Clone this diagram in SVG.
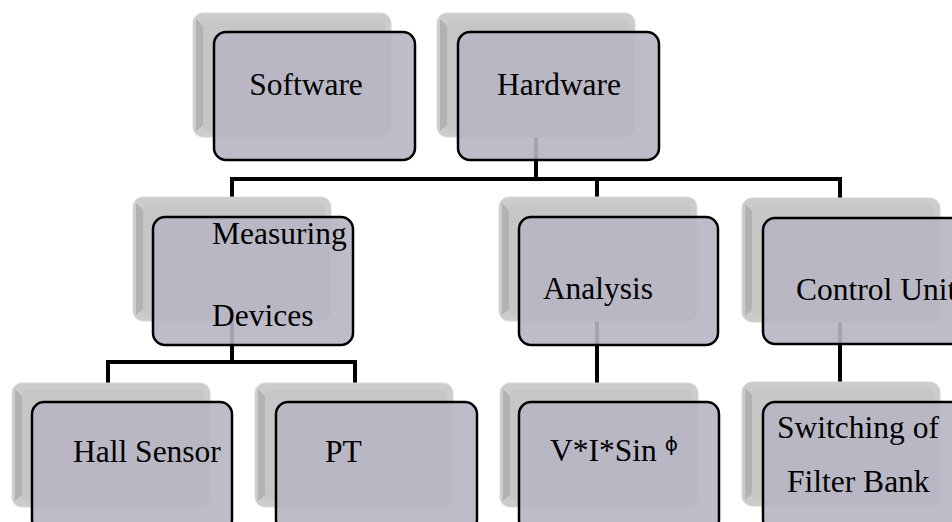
<svg xmlns="http://www.w3.org/2000/svg" width="952" height="522" viewBox="0 0 952 522">
<style>
.back{fill:#cccccc;stroke:#d8d8d8;stroke-width:1}
.face{fill:#c6c6c6}
.bevel{fill:#b2b2b2}
.front{fill:#b7b5c3;fill-opacity:0.9;stroke:#000;stroke-width:2.5}
.conn{fill:none;stroke:#000;stroke-width:4;stroke-linejoin:miter}
text{font-family:"Liberation Serif","Times New Roman",serif;font-size:31.5px;fill:#000}
</style>
<defs>
<g id="backbox">
<rect class="back" x="0" y="0" width="198" height="124" rx="10"/>
<rect class="face" x="9" y="7" width="183" height="111" rx="6"/>
<polygon class="bevel" points="3,6 10,13 10,112 3,118"/>
</g>
</defs>
<rect width="952" height="522" fill="#fff"/>
<g id="connectors">
<polyline class="conn" points="536,137 536,179"/>
<polyline class="conn" points="232,197 232,179 840,179 840,198"/>
<polyline class="conn" points="597,179 597,197"/>
<polyline class="conn" points="232,320 232,362"/>
<polyline class="conn" points="108,383 108,362 355,362 355,383"/>
<polyline class="conn" points="597,320 597,383"/>
<polyline class="conn" points="840,322 840,382"/>
</g>
<g id="software">
<use href="#backbox" x="193" y="13"/>
<rect class="front" x="214" y="32" width="201" height="128" rx="12"/>
<text x="306" y="95" text-anchor="middle">Software</text>
</g>
<g id="hardware">
<use href="#backbox" x="437" y="13"/>
<rect class="front" x="458" y="32" width="201" height="128" rx="12"/>
<text x="559" y="95" text-anchor="middle">Hardware</text>
</g>
<g id="measuring">
<use href="#backbox" x="133" y="197"/>
<rect class="front" x="153" y="217" width="200" height="128" rx="12"/>
<text x="212" y="244">Measuring</text>
<text x="212" y="326">Devices</text>
</g>
<g id="analysis">
<use href="#backbox" x="499" y="197"/>
<rect class="front" x="519" y="217" width="199" height="128" rx="12"/>
<text x="598" y="299" text-anchor="middle">Analysis</text>
</g>
<g id="control">
<use href="#backbox" x="742" y="198"/>
<rect class="front" x="763" y="218" width="201" height="126" rx="12"/>
<text x="796" y="300">Control Unit</text>
</g>
<g id="hall">
<use href="#backbox" x="12" y="383"/>
<rect class="front" x="32" y="402" width="200" height="130" rx="12"/>
<text x="73" y="462">Hall Sensor</text>
</g>
<g id="pt">
<use href="#backbox" x="255" y="383"/>
<rect class="front" x="276" y="402" width="201" height="130" rx="12"/>
<text x="325" y="462">PT</text>
</g>
<g id="visin">
<use href="#backbox" x="500" y="383"/>
<rect class="front" x="519" y="402" width="200" height="130" rx="12"/>
<text x="550" y="461">V*I*Sin <tspan font-size="20" dy="-10" font-family="'DejaVu Sans',sans-serif">ϕ</tspan></text>
</g>
<g id="switching">
<use href="#backbox" x="742" y="382"/>
<rect class="front" x="763" y="402" width="201" height="130" rx="12"/>
<text x="777" y="438">Switching of</text>
<text x="787" y="492">Filter Bank</text>
</g>
</svg>
